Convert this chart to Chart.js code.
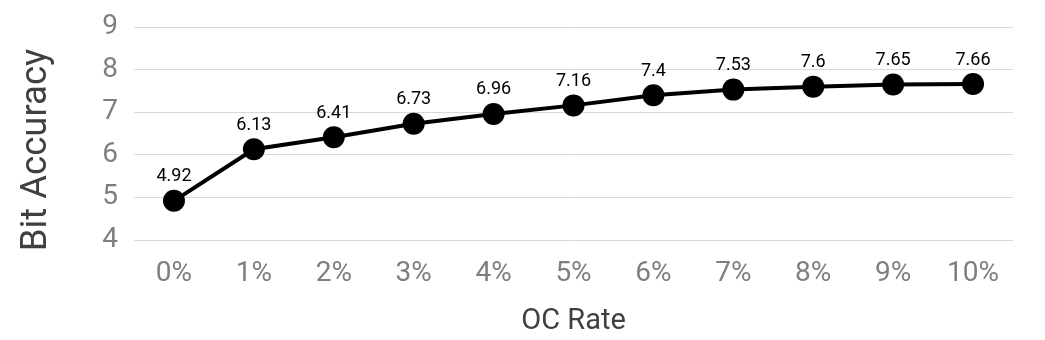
<!DOCTYPE html>
<html>
<head>
<meta charset="utf-8">
<script src="https://cdn.jsdelivr.net/npm/chart.js@4/dist/chart.umd.min.js"></script>
<style>
html,body{margin:0;padding:0;background:#fff;}
#wrap{width:1045px;height:340px;}
</style>
</head>
<body>
<div id="wrap"><canvas id="c" width="1045" height="340"></canvas></div>
<script>
const categories = ['0%','1%','2%','3%','4%','5%','6%','7%','8%','9%','10%'];
const bitAccuracy = [4.92, 6.13, 6.41, 6.73, 6.96, 7.16, 7.4, 7.53, 7.6, 7.65, 7.66];
const yTicks = [4, 5, 6, 7, 8, 9];
const xTitle = 'OC Rate';
const yTitle = 'Bit Accuracy';

const FONT = 'Roboto';

const labelPlugin = {
  id: 'valueLabels',
  afterDatasetsDraw(chart) {
    const ctx = chart.ctx;
    const meta = chart.getDatasetMeta(0);
    ctx.save();
    ctx.font = '18px ' + FONT;
    ctx.fillStyle = '#000000';
    ctx.textAlign = 'center';
    ctx.textBaseline = 'middle';
    meta.data.forEach((pt, i) => {
      ctx.fillText(String(bitAccuracy[i]), pt.x, pt.y - 24);
    });
    ctx.restore();
  },
  afterDraw(chart) {
    const ctx = chart.ctx;
    ctx.save();
    ctx.font = '36.5px ' + FONT;
    ctx.fillStyle = '#404040';
    ctx.textAlign = 'center';
    ctx.textBaseline = 'middle';
    ctx.translate(37, 150);
    ctx.rotate(-Math.PI / 2);
    ctx.fillText(yTitle, 0, 0);
    ctx.restore();
  }
};

new Chart(document.getElementById('c'), {
  type: 'line',
  data: {
    labels: categories,
    datasets: [{
      data: bitAccuracy,
      borderColor: '#000000',
      backgroundColor: '#000000',
      borderWidth: 4,
      pointRadius: 11,
      pointHoverRadius: 11,
      pointBorderWidth: 0,
      pointBackgroundColor: '#000000',
      pointBorderColor: '#000000',
      tension: 0
    }]
  },
  options: {
    responsive: false,
    animation: false,
    events: [],
    layout: { padding: { top: 27, right: 32, left: 0, bottom: 0 } },
    plugins: { legend: { display: false }, tooltip: { enabled: false } },
    scales: {
      x: {
        offset: true,
        grid: { display: false, drawTicks: false },
        border: { display: false },
        ticks: { color: '#7f7f7f', font: { family: FONT, size: 28 }, padding: 17, maxRotation: 0, autoSkip: false },
        title: { display: true, text: xTitle, color: '#404040', font: { family: FONT, size: 29 }, padding: { top: 0, bottom: 1 } },
        afterFit(s) { s.height = 100; }
      },
      y: {
        min: 4,
        max: 9,
        afterBuildTicks(s) { s.ticks = yTicks.map(v => ({ value: v })); },
        grid: { color: '#d9d9d9', lineWidth: 1, drawTicks: false },
        border: { display: false },
        ticks: { color: '#7f7f7f', font: { family: FONT, size: 28 }, padding: 16 },
        title: { display: false },
        afterFit(s) { s.width = 134; s.paddingTop = 0; s.paddingBottom = 0; }
      }
    }
  },
  plugins: [labelPlugin]
});
</script>
</body>
</html>
